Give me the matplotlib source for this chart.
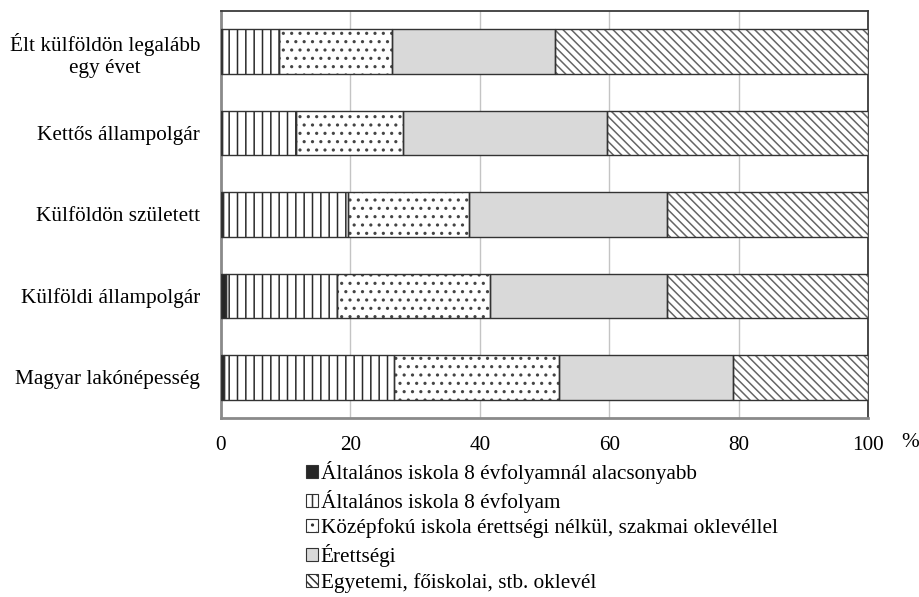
import numpy as np
import matplotlib
matplotlib.use("Agg")
import matplotlib.pyplot as plt
from matplotlib.patches import Patch

plt.rcParams['font.family'] = ['Liberation Serif', 'DejaVu Serif']
plt.rcParams['hatch.linewidth'] = 1.1

# rows from bottom to top
groups = ["Magyar lakónépesség", "Külföldi állampolgár", "Külföldön született",
          "Kettős állampolgár", "Élt külföldön legalább\negy évet"]

below8 = [0.4, 0.7, 0.3, 0.1, 0.1]
grade8 = [26.4, 17.3, 19.4, 11.5, 8.9]
vocational = [25.5, 23.5, 18.7, 16.6, 17.5]
matura = [26.9, 27.5, 30.6, 31.4, 25.1]
degree = [20.8, 31.0, 31.0, 40.4, 48.4]

series_names = ["Általános iskola 8 évfolyamnál alacsonyabb",
                "Általános iskola 8 évfolyam",
                "Középfokú iskola érettségi nélkül, szakmai oklevéllel",
                "Érettségi",
                "Egyetemi, főiskolai, stb. oklevél"]

xticks = [0, 20, 40, 60, 80, 100]

fills = ['#262626', 'white', 'white', '#d9d9d9', 'white']
hatches = ['', '||', '..', '', '\\\\\\\\']
hatch_cols = ['#262626', '#2a2a2a', '#444444', '#333333', '#666666']
edge = '#333333'

fig = plt.figure(figsize=(9.2, 5.97), dpi=100)
ax = fig.add_axes([221/920, 1 - 418/597, 647/920, 407/597])

y = np.arange(len(groups))
left = np.zeros(len(groups))
for vals, fc, h, hc in zip([below8, grade8, vocational, matura, degree],
                           fills, hatches, hatch_cols):
    # hatch drawn first in its own colour, outline on top
    ax.barh(y, vals, left=left, height=0.55, color=fc, edgecolor=hc,
            linewidth=0, hatch=h, zorder=3)
    ax.barh(y, vals, left=left, height=0.55, fill=False, edgecolor=edge,
            linewidth=1.0, zorder=4)
    left += np.array(vals)

ax.set_xlim(0, 100)
ax.set_ylim(-0.5, 4.5)
ax.set_xticks(xticks)
ax.set_xticklabels([str(t) for t in xticks])
ax.set_yticks(y)
ax.set_yticklabels(groups, multialignment='center')
ax.tick_params(length=0, labelsize=15.3)
ax.tick_params(axis='x', pad=13)
ax.tick_params(axis='y', pad=15)
ax.grid(axis='x', color='#c4c4c4', linewidth=1, zorder=0)

for s in ['left', 'bottom']:
    ax.spines[s].set_color('#8a8a8a')
    ax.spines[s].set_linewidth(2)
for s in ['top', 'right']:
    ax.spines[s].set_color('#3a3a3a')
    ax.spines[s].set_linewidth(1.3)

ax.text(1.065, -0.0614, '%', transform=ax.transAxes, fontsize=15.3,
        ha='center', va='center')

handles = [Patch(facecolor=fc, edgecolor=edge, hatch=h, linewidth=0.8)
           for fc, h in zip(fills, hatches)]
fig.legend(handles, series_names, loc='upper left',
           bbox_to_anchor=(306/920, 1 - 461/597), frameon=False,
           fontsize=15.3, handlelength=0.55, handleheight=0.55,
           handletextpad=0.15, labelspacing=0.27, borderpad=0,
           borderaxespad=0)

fig.savefig('out.png', dpi=100)
